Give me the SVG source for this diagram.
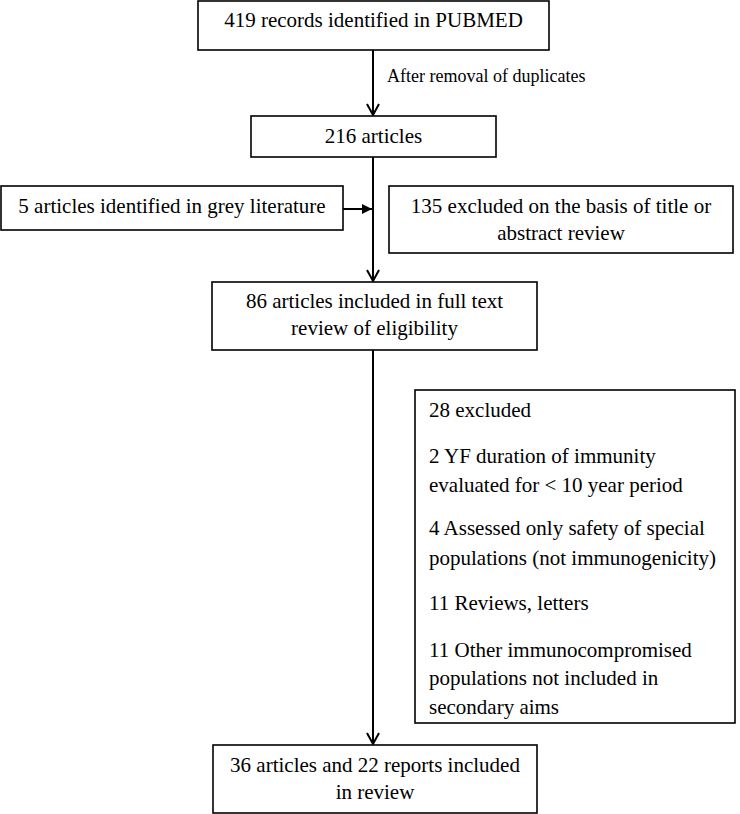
<svg xmlns="http://www.w3.org/2000/svg" width="740" height="814" viewBox="0 0 740 814">
<defs>
<style>
.box{fill:#fff;stroke:#000;stroke-width:1.6}
.t{font-size:21px;fill:#000}
.c{text-anchor:middle}
.lbl{font-size:18px;fill:#000}
.ln{stroke:#000;stroke-width:2;fill:none}
</style>
<marker id="open" markerWidth="16" markerHeight="14" refX="13" refY="7" orient="auto" markerUnits="userSpaceOnUse">
<path d="M2,1 L13,7 L2,13" fill="none" stroke="#000" stroke-width="2"/>
</marker>
<marker id="solid" markerWidth="12" markerHeight="12" refX="10" refY="6" orient="auto" markerUnits="userSpaceOnUse">
<path d="M0,1 L10,6 L0,11 Z" fill="#000"/>
</marker>
</defs>
<rect width="740" height="814" fill="#fff"/>
<g font-family="Liberation Serif, Tinos, Times New Roman, DejaVu Serif, serif">
<g id="connectors">
<line class="ln" x1="373" y1="50" x2="373" y2="115" marker-end="url(#open)"/>
<line class="ln" x1="373" y1="157" x2="373" y2="281" marker-end="url(#open)"/>
<line class="ln" x1="343" y1="209" x2="372" y2="209" marker-end="url(#solid)"/>
<line class="ln" x1="373" y1="350" x2="373" y2="744" marker-end="url(#open)"/>
<text class="lbl" x="387" y="82">After removal of duplicates</text>
</g>
<g id="pubmed">
<rect class="box" x="198" y="1" width="351" height="49"/>
<text class="t c" x="373.5" y="27">419 records identified in PUBMED</text>
</g>
<g id="articles216">
<rect class="box" x="251" y="116" width="245" height="41"/>
<text class="t c" x="373.5" y="143">216 articles</text>
</g>
<g id="grey">
<rect class="box" x="1" y="186" width="342" height="44"/>
<text class="t c" x="172" y="213">5 articles identified in grey literature</text>
</g>
<g id="excluded135">
<rect class="box" x="389" y="186" width="344" height="67"/>
<text class="t c" x="561" y="213">135 excluded on the basis of title or</text>
<text class="t c" x="561" y="240">abstract review</text>
</g>
<g id="fulltext">
<rect class="box" x="212" y="282" width="325" height="68"/>
<text class="t c" x="374.5" y="308">86 articles included in full text</text>
<text class="t c" x="374.5" y="335">review of eligibility</text>
</g>
<g id="excluded28">
<rect class="box" x="415" y="390" width="320" height="333"/>
<text class="t" x="429" y="417">28 excluded</text>
<text class="t" x="429" y="463">2 YF duration of immunity</text>
<text class="t" x="429" y="492">evaluated for &lt; 10 year period</text>
<text class="t" x="429" y="535">4 Assessed only safety of special</text>
<text class="t" x="429" y="565">populations (not immunogenicity)</text>
<text class="t" x="429" y="610">11 Reviews, letters</text>
<text class="t" x="429" y="657">11 Other immunocompromised</text>
<text class="t" x="429" y="685">populations not included in</text>
<text class="t" x="429" y="714">secondary aims</text>
</g>
<g id="included">
<rect class="box" x="213" y="745" width="324" height="68"/>
<text class="t c" x="375" y="772">36 articles and 22 reports included</text>
<text class="t c" x="375" y="799">in review</text>
</g>
</g>
</svg>
